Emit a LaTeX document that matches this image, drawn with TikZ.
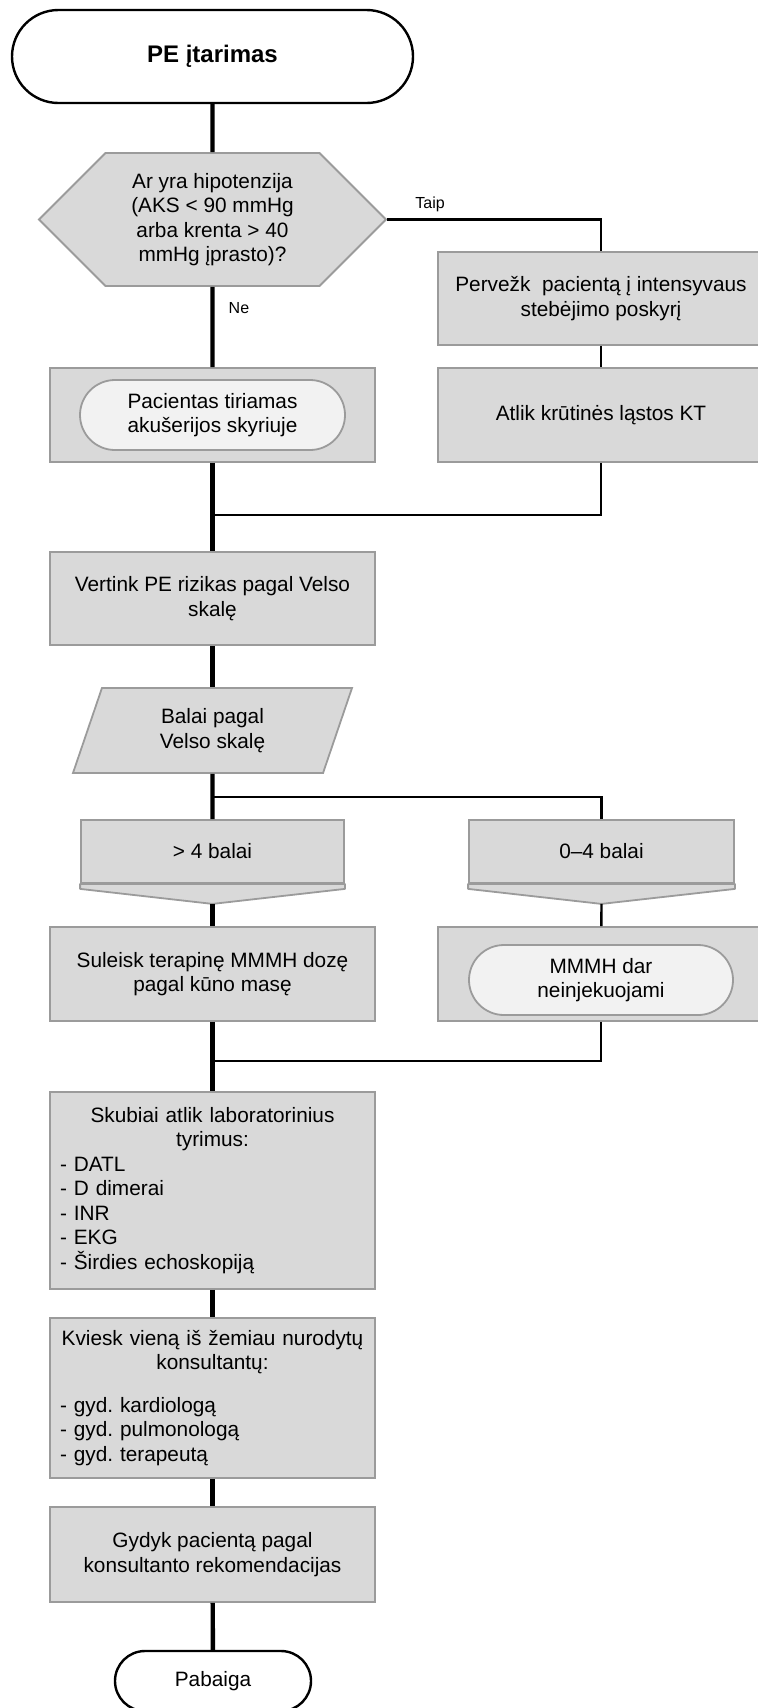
\documentclass[tikz,border=0pt]{standalone}
\usepackage{fontspec}
\setmainfont{Liberation Sans}
\frenchspacing
\usetikzlibrary{shapes.misc,shapes.symbols,shapes.geometric}
\definecolor{boxfill}{HTML}{D9D9D9}
\definecolor{boxedge}{HTML}{9B9B9B}
\definecolor{pillfill}{HTML}{F2F2F2}
\begin{document}
\begin{tikzpicture}[x=0.5pt,y=-0.5pt,
 font=\fontsize{10.4}{12.25}\selectfont,
 terminal/.style={rounded rectangle,draw=black,line width=1.2pt,fill=white,inner sep=0pt},
 box/.style={rectangle,draw=boxedge,fill=boxfill,line width=0.9pt,inner sep=0pt,align=center,minimum width=162.5pt,minimum height=47pt},
 pill/.style={rounded rectangle,draw=boxedge,fill=pillfill,line width=0.9pt,inner sep=0pt,align=center,minimum height=35pt},
 hexbox/.style={signal,signal to=east and west,signal pointer angle=90,draw=boxedge,fill=boxfill,line width=0.9pt,inner sep=0pt,align=center,minimum width=173.5pt,minimum height=66.5pt},
 databox/.style={trapezium,trapezium left angle=56.6,trapezium right angle=123.4,trapezium stretches body,draw=boxedge,fill=boxfill,line width=0.9pt,inner sep=0pt,align=center,minimum width=139.5pt,minimum height=42.5pt},
 chev/.style={draw=boxedge,fill=boxfill,line width=0.9pt,line join=round},
 listbox/.style={box,align=left,text width=152.5pt,inner xsep=5pt},
 flow/.style={line width=2.2pt},
 branch/.style={line width=1.2pt},
 lbl/.style={font=\fontsize{8}{9.6}\selectfont,inner sep=1pt}]
 \useasboundingbox (0,0) rectangle (757,1708);
 \node[terminal,minimum width=200.5pt,minimum height=46.5pt,font=\fontsize{12}{14}\selectfont\bfseries] (start) at (212.5,56.5) {PE įtarimas};
 \node[hexbox] (hipo) at (212.5,219.5) {Ar yra hipotenzija\\(AKS < 90 mmHg\\arba krenta > 40\\mmHg įprasto)?};
 \node[box,minimum width=163pt,minimum height=46.5pt] (perv) at (601,298.5) {Pervežk~ pacientą į intensyvaus\\stebėjimo poskyrį};
 \node[box,minimum width=163pt] (ct) at (601,415) {Atlik krūtinės ląstos KT};
 \node[box] (tir) at (212.5,415) {};
 \node[pill,minimum width=132.5pt] (tirin) at (212.5,415) {Pacientas tiriamas\\akušerijos skyriuje};
 \node[box,minimum height=46.5pt] (vert) at (212.5,598.5) {Vertink PE rizikas pagal Velso\\skalę};
 \node[databox] (balai) at (212.5,730.5) {Balai pagal\\Velso skalę};
 \node[box,minimum width=131.5pt,minimum height=31.5pt] (daug) at (212.5,851.5) {> 4 balai};
 \node[box,minimum width=132.5pt,minimum height=31.5pt] (mazai) at (601.5,851.5) {0–4 balai};
 \coordinate (daugtip) at ([yshift=-10pt]daug.south);
 \coordinate (mazaitip) at ([yshift=-10pt]mazai.south);
 \filldraw[chev] (daug.south west) -- ([yshift=-2.5pt]daug.south west) -- (daugtip) -- ([yshift=-2.5pt]daug.south east) -- (daug.south east) -- cycle;
 \filldraw[chev] (mazai.south west) -- ([yshift=-2.5pt]mazai.south west) -- (mazaitip) -- ([yshift=-2.5pt]mazai.south east) -- (mazai.south east) -- cycle;
 \node[box] (sul) at (212.5,974) {Suleisk terapinę MMMH dozę\\pagal kūno masę};
 \node[box,minimum width=163pt] (mmmh) at (601,974) {};
 \node[pill,minimum width=132pt] (mmmhin) at (601,980) {MMMH dar\\neinjekuojami};
 \node[listbox,minimum height=98.5pt] (lab) at (212.5,1190.5) {{\centering Skubiai atlik laboratorinius\\tyrimus:\par}- DATL\\- D dimerai\\- INR\\- EKG\\- Širdies echoskopiją};
 \node[listbox,minimum height=80pt] (kons) at (212.5,1398) {{\centering Kviesk vieną iš žemiau nurodytų\\konsultantų:\par}\vspace{9pt}- gyd. kardiologą\\- gyd. pulmonologą\\- gyd. terapeutą};
 \node[box,minimum height=47.5pt] (gyd) at (212.5,1554.5) {Gydyk pacientą pagal\\konsultanto rekomendacijas};
 \node[terminal,minimum width=98pt,minimum height=30pt] (pab) at (213,1681) {Pabaiga};
 \coordinate (j1) at (212.5,515);
 \coordinate (j2) at (212.5,797);
 \coordinate (j3) at (212.5,1061);
 \draw[flow] (start) -- (hipo);
 \draw[flow] (hipo) -- node[lbl,pos=0.27,anchor=west,xshift=6pt] (ne) {Ne} (tir);
 \draw[branch] (hipo.east) -| node[lbl,pos=0.1,above=2pt] (taip) {Taip} (perv.north);
 \draw[branch] (perv) -- (ct);
 \draw[flow] (tir) -- (vert);
 \draw[branch] (ct) |- (j1);
 \draw[flow] (vert) -- (balai);
 \draw[flow] (balai) -- (daug);
 \draw[branch] (j2) -| (mazai);
 \draw[flow] (daugtip) -- (sul);
 \draw[branch] (mazaitip) -- (mmmh);
 \draw[flow] (sul) -- (lab);
 \draw[branch] (mmmh) |- (j3);
 \draw[flow] (lab) -- (kons);
 \draw[flow] (kons) -- (gyd);
 \draw[flow] (gyd) -- (pab);
\end{tikzpicture}
\end{document}
